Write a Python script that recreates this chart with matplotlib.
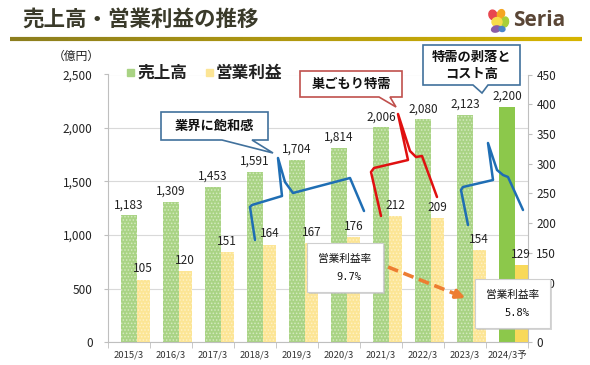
import matplotlib
matplotlib.use('Agg')
import matplotlib.pyplot as plt
import numpy as np
from matplotlib.patches import Polygon, Rectangle, FancyArrowPatch, Ellipse
from matplotlib.collections import LineCollection
from matplotlib.colors import to_rgb

plt.rcParams['font.family'] = ['Noto Sans CJK JP', 'DejaVu Sans']
plt.rcParams['hatch.linewidth'] = 0.7

categories = ['2015/3', '2016/3', '2017/3', '2018/3', '2019/3', '2020/3',
              '2021/3', '2022/3', '2023/3', '2024/3予']
sales = [1183, 1309, 1453, 1591, 1704, 1814, 2006, 2080, 2123, 2200]
op_profit = [105, 120, 151, 164, 167, 176, 212, 209, 154, 129]
margin_before = '9.7%'
margin_after = '5.8%'

fig = plt.figure(figsize=(5.9, 3.65), dpi=100)
ax = fig.add_axes([108 / 590, 1 - 342 / 365, 420 / 590, 267.5 / 365])
ax2 = ax.twinx()

x = np.arange(len(categories))
gbars = ax.bar(x, sales, width=0.37, color='#A9D384', zorder=2)
for i, b in enumerate(gbars):
    if i == len(gbars) - 1:
        b.set_facecolor('#8CC84B')
        b.set_edgecolor('#8CC84B')
        b.set_linewidth(0)
    else:
        b.set_hatch('.....')
        b.set_edgecolor('#D3EABF')
        b.set_linewidth(0)

ybars = ax2.bar(x + 0.34, op_profit, width=0.32, color='#FCE595', zorder=2)
for i, b in enumerate(ybars):
    if i == len(ybars) - 1:
        b.set_facecolor('#F8D95A')
        b.set_linewidth(0)
    else:
        b.set_hatch('.....')
        b.set_edgecolor('#FFF1C4')
        b.set_linewidth(0)

for i, v in enumerate(sales):
    ax.annotate(f'{v:,}', (x[i], v), xytext=(0, 3), textcoords='offset points',
                ha='center', va='bottom', fontsize=8.5, color='#222222', zorder=5)
for i, v in enumerate(op_profit):
    ax2.annotate(f'{v}', (x[i] + 0.34, v), xytext=(0, 3), textcoords='offset points',
                 ha='center', va='bottom', fontsize=8.5, color='#222222', zorder=5)

ax.set_xlim(-0.5, len(categories) - 0.5)
ax.set_ylim(0, 2500)
ax2.set_ylim(0, 450)
ax.set_yticks(range(0, 2501, 500))
ax.set_yticklabels([f'{t:,}' for t in range(0, 2501, 500)])
ax2.set_yticks(range(0, 451, 50))
ax.grid(axis='y', color='#D9D9D9', lw=0.8)
ax.set_axisbelow(True)
ax.set_xticks(x)
ax.set_xticklabels(categories, fontsize=6.8, color='#333333')
ax.set_xticks(np.arange(-0.5, len(categories), 1), minor=True)
ax.tick_params(axis='x', which='major', length=0, pad=6)
ax.tick_params(axis='x', which='minor', length=4, color='#BFBFBF')
ax.tick_params(axis='y', length=3, color='#BFBFBF', labelsize=8.5, pad=8, labelcolor='#222222')
ax2.tick_params(axis='y', length=3, color='#BFBFBF', labelsize=8.5, pad=3, labelcolor='#222222')
for s in ['top', 'right']:
    ax.spines[s].set_visible(False)
for s in ['top', 'left', 'bottom']:
    ax2.spines[s].set_visible(False)
ax.spines['left'].set_color('#BFBFBF')
ax.spines['bottom'].set_color('#BFBFBF')
ax2.spines['right'].set_color('#BFBFBF')

# overlay in pixel coordinates
ov = fig.add_axes([0, 0, 1, 1], zorder=10)
ov.set_xlim(0, 590)
ov.set_ylim(365, 0)
ov.axis('off')
ov.patch.set_alpha(0)

ov.text(22, 19, '売上高・営業利益の推移', fontsize=15.5, fontweight='bold',
        color='#3A3A2A', va='center', ha='left')

# gold rule
xs = np.linspace(10, 582, 60)
segs = [[(xs[k], 38.5), (xs[k + 1], 38.5)] for k in range(len(xs) - 1)]
c0, c1 = np.array(to_rgb('#8C7E1E')), np.array(to_rgb('#D6B400'))
cols = [tuple(c0 + (c1 - c0) * t) for t in np.linspace(0, 1, len(segs))]
ov.add_collection(LineCollection(segs, colors=cols, linewidths=3, capstyle='butt'))

# logo
ov.add_patch(Ellipse((493, 15), 8, 10, angle=-20, color='#E8474F'))
ov.add_patch(Ellipse((501, 14), 7, 9, angle=20, color='#F5A623'))
ov.add_patch(Ellipse((505, 22), 7, 10, angle=10, color='#A8CF3A'))
ov.add_patch(Ellipse((497, 22), 10, 9, color='#F7DC4A'))
ov.add_patch(Ellipse((496, 29), 9, 6, angle=-15, color='#8A5CA8'))
ov.add_patch(Ellipse((502, 29), 6, 5, angle=15, color='#4A86C8'))
ov.text(513, 21, 'Seria', fontsize=15, fontweight='bold', color='#5A4636',
        family=['Open Sans', 'DejaVu Sans'], va='center', ha='left')

# unit and legend
ov.text(76, 56, '（億円）', fontsize=8.5, ha='center', va='center', color='#222222')
ov.add_patch(Rectangle((127, 69), 7, 7, color='#A9D384'))
ov.text(137, 73, '売上高', fontsize=12, fontweight='bold', ha='left', va='center', color='#222222')
ov.add_patch(Rectangle((206, 69), 7, 7, color='#FCE595'))
ov.text(216, 73, '営業利益', fontsize=12, fontweight='bold', ha='left', va='center', color='#222222')


def callout(x0, y0, x1, y1, tb0, tb1, tip, ec):
    pts = [(x0, y0), (x1, y0), (x1, y1), (tb1, y1), tip, (tb0, y1), (x0, y1)]
    ov.add_patch(Polygon(pts, closed=True, fc='white', ec=ec, lw=1.2, joinstyle='miter'))


callout(161, 112, 268, 140, 222, 252, (273, 153), '#41719C')
ov.text(214.5, 126, '業界に飽和感', fontsize=9.5, fontweight='bold', ha='center', va='center', color='#111111')
callout(300, 71, 402, 97, 379, 390, (396, 107), '#C0504D')
ov.text(351, 84, '巣ごもり特需', fontsize=9.5, fontweight='bold', ha='center', va='center', color='#111111')
callout(423, 45, 520, 85, 473, 488, (482, 93), '#41719C')
ov.text(471.5, 57, '特需の剥落と', fontsize=9.5, fontweight='bold', ha='center', va='center', color='#111111')
ov.text(471.5, 74, 'コスト高', fontsize=9.5, fontweight='bold', ha='center', va='center', color='#111111')

# bracket lines
blue1 = [(255, 240), (250, 207), (252, 205), (282, 196), (278, 158), (285, 182),
         (293, 193), (350, 178), (364, 211)]
red1 = [(381, 216), (371, 172), (374, 168), (408, 160), (398, 114), (410, 151),
        (416, 157), (422, 156), (437, 197)]
blue2 = [(468, 225), (461, 190), (463, 187), (493, 180), (488, 143), (497, 170),
         (503, 175), (508, 177), (523, 210)]
for pts, c in [(blue1, '#1F6EB4'), (red1, '#E01010'), (blue2, '#1F6EB4')]:
    px, py = zip(*pts)
    ov.plot(px, py, color=c, lw=1.8, solid_joinstyle='round', solid_capstyle='round')

# margin boxes
for (bx0, by0, bx1, by1, val) in [(307, 243, 383, 292, margin_before),
                                  (475, 279, 550, 328, margin_after)]:
    ov.add_patch(Rectangle((bx0 + 2, by0 + 2), bx1 - bx0, by1 - by0, fc='#BBBBBB', ec='none', alpha=0.6))
    ov.add_patch(Rectangle((bx0, by0), bx1 - bx0, by1 - by0, fc='white', ec='#CFCFCF', lw=0.8))
    cx = (bx0 + bx1) / 2
    ov.text(cx, by0 + 16, '営業利益率', fontsize=7.7, ha='center', va='center', color='#111111')
    ov.text(cx + 4, by0 + 34, val, fontsize=7.5, ha='center', va='center', color='#111111',
            family=['DejaVu Sans Mono'])

# dashed arrow
ov.plot([388, 455], [267, 293.8], color='#ED7D31', lw=2.6, linestyle=(0, (3, 1.6)), solid_capstyle='butt')
ov.add_patch(FancyArrowPatch((453, 293), (468, 299), arrowstyle='-|>', mutation_scale=13,
                             color='#ED7D31', lw=2.6))

fig.savefig('out.png', dpi=100)
